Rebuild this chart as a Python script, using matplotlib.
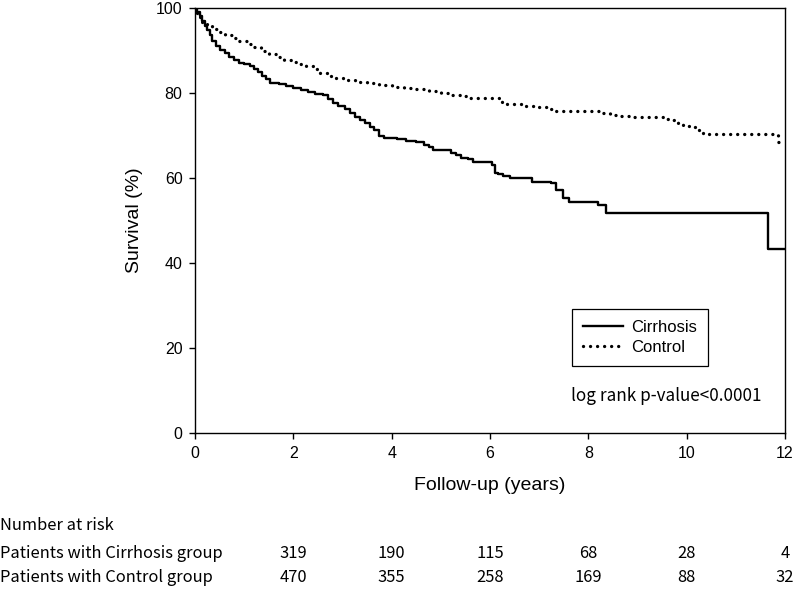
import numpy as np
import matplotlib
matplotlib.use("Agg")
import matplotlib.pyplot as plt
import matplotlib.transforms as mtransforms

# Kaplan-Meier steps
cirr_t = [0, 0.05, 0.1, 0.15, 0.2, 0.25, 0.3, 0.35, 0.42, 0.5, 0.6, 0.7, 0.8, 0.9,
          1.0, 1.12, 1.2, 1.28, 1.36, 1.45, 1.52, 1.7, 1.85, 2.0, 2.15, 2.3, 2.45,
          2.6, 2.7, 2.8, 2.9, 3.05, 3.15, 3.25, 3.35, 3.45, 3.55, 3.65, 3.75, 3.85,
          4.1, 4.3, 4.5, 4.65, 4.75, 4.85, 5.05, 5.2, 5.3, 5.4, 5.55, 5.65, 5.95,
          6.05, 6.1, 6.17, 6.27, 6.4, 6.85, 7.25, 7.35, 7.49, 7.6, 8.2, 8.35, 11.66, 12.0]
cirr_s = [100, 99.0, 98.2, 97.0, 95.8, 94.8, 93.6, 92.3, 91.0, 90.2, 89.3, 88.5, 87.8, 87.1,
          86.8, 86.4, 85.6, 84.9, 84.0, 83.3, 82.4, 82.1, 81.6, 81.1, 80.8, 80.3, 79.8,
          79.5, 78.6, 77.6, 76.9, 76.2, 75.3, 74.3, 73.6, 72.9, 72.1, 71.2, 70.0, 69.5,
          69.2, 68.8, 68.4, 67.8, 67.2, 66.7, 66.5, 66.0, 65.4, 64.8, 64.5, 63.8, 63.7,
          63.1, 61.1, 60.9, 60.5, 59.9, 59.1, 58.8, 57.2, 55.2, 54.4, 53.6, 51.8, 43.4, 43.4]

ctrl_t = [0, 0.05, 0.1, 0.15, 0.25, 0.35, 0.45, 0.6, 0.75, 0.9, 1.05, 1.2, 1.35, 1.5,
          1.65, 1.8, 1.95, 2.1, 2.25, 2.4, 2.55, 2.7, 2.85, 3.0, 3.25, 3.5, 3.75, 4.0,
          4.25, 4.5, 4.75, 5.0, 5.2, 5.4, 5.6, 6.25, 6.35, 6.7, 6.95, 7.15, 7.35, 8.3,
          8.45, 8.6, 8.85, 9.58, 9.72, 9.82, 9.93, 10.1, 10.2, 10.33, 11.85, 12.0]
ctrl_s = [100, 98.8, 97.8, 96.8, 95.9, 95.0, 94.3, 93.6, 92.9, 92.3, 91.6, 90.8, 89.9, 89.1,
          88.4, 87.8, 87.3, 86.9, 86.3, 85.6, 84.8, 84.1, 83.6, 83.1, 82.7, 82.3, 81.9, 81.5,
          81.2, 80.9, 80.5, 80.0, 79.6, 79.2, 78.9, 78.0, 77.3, 77.0, 76.7, 76.2, 75.8, 75.4,
          74.9, 74.5, 74.3, 74.0, 73.6, 72.9, 72.2, 71.9, 71.3, 70.3, 68.5, 68.5]

risk_times = [2, 4, 6, 8, 10, 12]
risk_cirr = [319, 190, 115, 68, 28, 4]
risk_ctrl = [470, 355, 258, 169, 88, 32]
risk_rows = ["Patients with Cirrhosis group", "Patients with Control group"]

axis_font = "Liberation Sans"
table_font = ["Noto Sans CJK TC", "DejaVu Sans"]

fig = plt.figure(figsize=(7.97, 5.89), dpi=100)
ax = fig.add_axes([195 / 797, 1 - 433 / 589, 590 / 797, 425 / 589])

ax.plot(cirr_t, cirr_s, drawstyle="steps-post", color="black", lw=1.7, label="Cirrhosis")
ax.plot(ctrl_t, ctrl_s, drawstyle="steps-post", color="black", lw=2.4,
        linestyle=(0, (0.01, 2.1)), dash_capstyle="round", label="Control")

ax.set_xlim(0, 12)
ax.set_ylim(0, 100)
ax.set_xticks(np.arange(0, 13, 2))
ax.set_yticks(np.arange(0, 101, 20))
ax.tick_params(direction="out", length=4, width=1, labelsize=11.5, pad=5)
for lbl in ax.get_xticklabels() + ax.get_yticklabels():
    lbl.set_fontfamily(axis_font)
for sp in ax.spines.values():
    sp.set_linewidth(1)

ax.set_xlabel("Follow-up (years)", fontsize=14, fontfamily=axis_font, labelpad=12)
ax.set_ylabel("Survival (%)", fontsize=14, fontfamily=axis_font, labelpad=9)

leg = ax.legend(loc="upper left", bbox_to_anchor=(0.6385, 0.291), borderaxespad=0,
                fancybox=False, edgecolor="black", framealpha=1, handlelength=2.4,
                handletextpad=0.5, borderpad=0.65, labelspacing=0.3,
                prop={"family": axis_font, "size": 12})
leg.get_frame().set_linewidth(0.9)

ax.text(0.637, 0.087, "log rank p-value<0.0001", transform=ax.transAxes,
        fontsize=12.3, fontfamily=table_font, va="center", ha="left")

# number-at-risk table
trans = mtransforms.blended_transform_factory(ax.transData, fig.transFigure)
fig.text(0.0, 1 - 525 / 589, "Number at risk", fontsize=11.9, fontfamily=table_font,
         va="center", ha="left")
for row, vals, ypix in [(risk_rows[0], risk_cirr, 553), (risk_rows[1], risk_ctrl, 578)]:
    fig.text(0.0, 1 - ypix / 589, row, fontsize=11.9, fontfamily=table_font,
             va="center", ha="left")
    for t, v in zip(risk_times, vals):
        ax.text(t, 1 - ypix / 589, str(v), transform=trans, fontsize=11.9,
                fontfamily=table_font, va="center", ha="center", clip_on=False)

fig.savefig("out.png", dpi=100)
